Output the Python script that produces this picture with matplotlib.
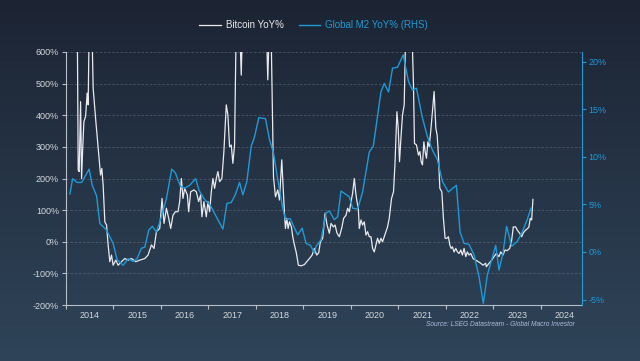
#!/usr/bin/env python3
"""Bitcoin YoY% vs Global M2 YoY% (RHS), dark GMI-style chart."""

import matplotlib
import numpy as np

matplotlib.use("Agg")
import matplotlib.pyplot as plt
from matplotlib.colors import LinearSegmentedColormap
from matplotlib.ticker import FixedLocator, FuncFormatter, NullFormatter

plt.rcParams["font.family"] = ["Liberation Sans", "DejaVu Sans"]

# ---- data (decimal years, % change) ----
m2_t = [2014.084, 2014.141, 2014.237, 2014.330, 2014.489, 2014.553, 2014.645,
        2014.714, 2014.855, 2014.994, 2015.078, 2015.204, 2015.309, 2015.414,
        2015.498, 2015.590, 2015.660, 2015.744, 2015.821, 2015.905, 2016.011,
        2016.116, 2016.227, 2016.305, 2016.410, 2016.500, 2016.605, 2016.731,
        2016.800, 2016.920, 2017.040, 2017.166, 2017.305, 2017.389, 2017.481,
        2017.565, 2017.655, 2017.725, 2017.809, 2017.901, 2017.971, 2018.061,
        2018.202, 2018.286, 2018.370, 2018.460, 2018.565, 2018.622, 2018.721,
        2018.880, 2018.973, 2019.057, 2019.147, 2019.231, 2019.267, 2019.372,
        2019.477, 2019.546, 2019.651, 2019.721, 2019.792, 2019.966, 2020.036,
        2020.141, 2020.246, 2020.387, 2020.471, 2020.632, 2020.702, 2020.792,
        2020.876, 2020.981, 2021.101, 2021.212, 2021.296, 2021.380, 2021.500,
        2021.611, 2021.716, 2021.821, 2021.926, 2022.053, 2022.221, 2022.298,
        2022.382, 2022.487, 2022.592, 2022.697, 2022.788, 2022.872, 2022.964,
        2023.048, 2023.118, 2023.202, 2023.279, 2023.384, 2023.502, 2023.607,
        2023.712, 2023.790]
m2_yoy = [6.1, 7.7, 7.3, 7.3, 8.7, 7.0, 5.9, 3.0, 2.3, 0.9, -0.8, -1.4, -0.7,
          -1.0, -0.7, 0.4, 0.5, 2.3, 2.7, 2.1, 3.7, 5.6, 8.7, 8.3, 6.9, 6.7,
          7.0, 7.7, 6.5, 5.5, 4.9, 3.7, 2.4, 5.1, 5.2, 6.0, 7.3, 6.0, 7.4,
          11.1, 12.1, 14.1, 14.0, 11.8, 10.4, 7.6, 4.6, 3.4, 3.5, 1.8, 2.5,
          0.9, 0.7, -0.1, 0.6, 1.3, 4.1, 4.3, 3.4, 3.7, 6.4, 5.8, 4.6, 4.5,
          6.3, 10.5, 11.1, 16.8, 17.7, 16.8, 19.3, 19.4, 20.7, 17.9, 17.0,
          17.2, 14.2, 12.1, 10.7, 9.7, 7.4, 6.3, 7.0, 2.1, 0.9, 0.8, -0.3,
          -2.6, -5.4, -2.4, -0.8, 0.7, -1.9, -0.1, 2.7, 0.6, 1.1, 2.1, 3.4, 4.6]

btc_px = [77.0, 78.3, 79.3, 80.7, 81.7, 82.7, 84.0, 85.7, 87.3, 88.3, 89.3,
          91.0, 92.3, 93.3, 96.0, 98.3, 100.7, 102.0, 103.3, 105.0, 106.7,
          108.3, 110.0, 111.7, 113.3, 116.0, 118.3, 121.7, 125.0, 128.3, 131.7,
          136.0, 140.0, 145.0, 148.3, 151.7, 154.3, 156.7, 160.0, 162.3, 164.3,
          166.7, 169.0, 171.0, 173.3, 175.7, 178.3, 180.0, 181.7, 183.3, 185.0,
          187.7, 189.0, 191.0, 194.3, 196.7, 199.0, 201.0, 202.3, 204.3, 206.7,
          208.3, 210.0, 211.7, 213.3, 215.0, 216.7, 218.3, 220.0, 222.3, 224.3,
          225.7, 226.7, 228.3, 230.0, 231.7, 233.3, 235.0, 236.7, 239.0, 241.7,
          243.0, 250.0, 258.0, 265.0, 266.7, 268.3, 270.0, 271.7, 274.0, 276.0,
          278.3, 280.0, 282.3, 283.3, 285.0, 286.0, 287.3, 288.7, 290.0, 292.0,
          293.3, 295.0, 296.7, 299.0, 301.7, 305.0, 307.3, 310.0, 312.7, 315.0,
          317.3, 319.3, 321.0, 323.3, 325.7, 327.7, 330.0, 331.7, 334.0, 335.7,
          337.7, 340.0, 342.3, 344.3, 346.7, 348.3, 350.0, 351.7, 353.3, 355.0,
          356.7, 357.7, 359.0, 360.0, 361.7, 363.3, 365.0, 366.7, 368.3, 370.0,
          371.7, 373.3, 375.0, 376.7, 378.3, 380.0, 381.7, 383.3, 385.0, 386.7,
          388.3, 390.0, 392.3, 394.3, 395.7, 397.7, 399.0, 400.3, 401.7, 403.3,
          405.0, 406.7, 409.0, 412.0, 414.3, 415.3, 417.3, 419.3, 420.7, 422.0,
          423.3, 424.7, 426.0, 427.3, 428.7, 430.0, 431.7, 433.3, 435.0, 436.7,
          438.0, 439.3, 440.7, 442.7, 444.3, 446.0, 447.7, 449.3, 450.7, 452.0,
          453.3, 455.0, 456.7, 458.3, 460.0, 461.7, 463.3, 465.0, 466.7, 468.3,
          470.0, 471.7, 474.0, 476.7, 479.3, 481.7, 484.0, 486.7, 487.3, 490.0,
          492.7, 495.0, 497.3, 500.0, 501.7, 504.0, 506.0, 508.3, 510.7, 512.7,
          514.3, 516.7, 518.3, 520.7, 522.7, 524.3, 526.7, 528.7, 530.0, 531.3,
          532.7, 534.0]
btc_yoy = [900, 227, 222, 443, 200, 285, 380, 396, 470, 433, 680,
           720, 640, 485, 380, 296, 211, 232, 179, 63, 53,
           -10, -63, -42, -74, -58, -74, -63, -53, -58, -53,
           -63, -58, -53, -42, -10, -21, 32, 42, 137, 58,
           106, 74, 42, 84, 95, 95, 127, 200, 137, 169,
           148, 95, 158, 164, 158, 127, 148, 79, 127, 79,
           127, 95, 158, 200, 169, 200, 222, 190, 200, 285,
           369, 433, 401, 300, 306, 248, 306, 700, 800, 527,
           700, 900, 1000, 800, 700, 512, 700, 650, 206, 142,
           164, 132, 259, 195, 91, 42, 74, 42, 63, 47,
           16, -10, -32, -74, -76, -72, -63, -53, -42, -21,
           -42, -35, 0, 11, 90, 53, 27, 58, 47, 53,
           27, 16, 42, 74, 84, 106, 95, 127, 153, 200,
           148, 127, 106, 42, 69, 53, 63, 21, 32, 16,
           16, -21, -32, -10, 11, -5, 11, 0, 16, 32,
           47, 74, 137, 158, 243, 411, 359, 253, 327, 401,
           433, 700, 900, 750, 496, 311, 306, 274, 285, 253,
           243, 316, 285, 264, 316, 301, 353, 411, 475, 359,
           338, 274, 169, 158, 74, 11, 11, 16, -10, -21,
           -16, -32, -21, -32, -37, -26, -42, -21, -47, -32,
           -42, -37, -53, -58, -63, -68, -74, -68, -79, -68,
           -58, -47, -37, -47, -32, -42, -26, -28, -21, 5,
           47, 47, 37, 27, 16, 28, 37, 42, 47, 74,
           69, 134]
# picture was read in pixels: x=66 is Jan 2014, 47.6 px per year
btc_t = [2014 + (p - 66) / 47.6 for p in btc_px]

years = list(range(2014, 2025))
left_ticks = [-200, -100, 0, 100, 200, 300, 400, 500, 600]
right_ticks = [-5, 0, 5, 10, 15, 20]

WHITE = "#e8eaee"
BLUE = "#1f9ad6"
TXT = "#d4d8de"
SPINE = "#b8bec8"


def main():
    fig = plt.figure(figsize=(6.4, 3.61), dpi=100)

    # background gradient
    bg = fig.add_axes([0, 0, 1, 1], zorder=-10)
    cmap = LinearSegmentedColormap.from_list("bg", ["#1c2433", "#2f4459"])
    bg.imshow(np.linspace(0, 1, 256).reshape(-1, 1), aspect="auto",
              cmap=cmap, extent=[0, 1, 0, 1])
    bg.set_axis_off()

    ax = fig.add_axes([0.103, 0.155, 0.806, 0.701])
    ax.patch.set_alpha(0)
    ax2 = ax.twinx()
    ax2.patch.set_alpha(0)

    ax2.plot(m2_t, m2_yoy, color=BLUE, lw=1.0, label="Global M2 YoY% (RHS)")
    ax.plot(btc_t, btc_yoy, color=WHITE, lw=0.9, label="Bitcoin YoY%")

    ax.set_xlim(2014.0, 2024.86)
    ax.set_ylim(-200, 600)
    ax2.set_ylim(-5.57, 21.0)

    ax.yaxis.set_major_locator(FixedLocator(left_ticks))
    ax.yaxis.set_major_formatter(FuncFormatter(lambda v, _: f"{v:.0f}%"))
    ax2.yaxis.set_major_locator(FixedLocator(right_ticks))
    ax2.yaxis.set_major_formatter(FuncFormatter(lambda v, _: f"{v:.0f}%"))

    ax.xaxis.set_major_locator(FixedLocator(years))
    ax.xaxis.set_major_formatter(NullFormatter())
    ax.xaxis.set_minor_locator(FixedLocator([y + 0.5 for y in years]))
    ax.xaxis.set_minor_formatter(FuncFormatter(lambda v, _: f"{int(v)}"))

    for v in left_ticks[1:]:
        ax.axhline(v, color="#6a7888", lw=0.6, ls=(0, (3, 2)), alpha=0.55, zorder=0)

    ax.tick_params(axis="y", colors=SPINE, labelcolor=TXT, labelsize=6.5,
                   length=3, width=0.8, direction="out", pad=2)
    ax.tick_params(axis="x", which="major", colors=SPINE, length=3, width=0.8)
    ax.tick_params(axis="x", which="minor", length=0, labelcolor=TXT,
                   labelsize=6.5, pad=4)
    ax2.tick_params(axis="y", colors=BLUE, labelcolor=BLUE, labelsize=6.5,
                    length=3, width=0.8, pad=2)

    for a in (ax, ax2):
        a.spines["top"].set_visible(False)
    ax.spines["right"].set_visible(False)
    ax2.spines["left"].set_visible(False)
    ax2.spines["bottom"].set_visible(False)
    ax.spines["left"].set_color(SPINE)
    ax.spines["bottom"].set_color(SPINE)
    ax2.spines["right"].set_color(BLUE)
    for s in ("left", "bottom"):
        ax.spines[s].set_linewidth(0.8)
    ax2.spines["right"].set_linewidth(0.8)

    h1, l1 = ax.get_legend_handles_labels()
    h2, l2 = ax2.get_legend_handles_labels()
    leg = fig.legend(h1 + h2, l1 + l2, loc="center", bbox_to_anchor=(0.49, 0.93),
                     ncol=2, frameon=False, fontsize=7, handlelength=2.2,
                     handletextpad=0.5, columnspacing=1.6)
    for text, col in zip(leg.get_texts(), (WHITE, BLUE)):
        text.set_color(col)

    fig.text(0.898, 0.1, "Source: LSEG Datastream - Global Macro Investor",
             ha="right", va="center", fontsize=4.8, style="italic", color="#a9bdd6")

    fig.savefig("out.png", dpi=100)


if __name__ == "__main__":
    main()
